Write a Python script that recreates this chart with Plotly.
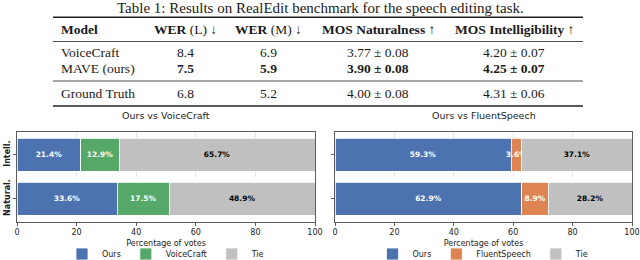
import plotly.graph_objects as go

W, H = 640, 260

# ---------------- Table data ----------------
table_title = "Table 1: Results on RealEdit benchmark for the speech editing task."
headers = ["<b>Model</b>", "<b>WER</b> (L) ↓", "<b>WER</b> (M) ↓", "<b>MOS Naturalness</b> ↑", "<b>MOS Intelligibility</b> ↑"]
models = ["VoiceCraft", "MAVE (ours)", "Ground Truth"]
wer_l = ["8.4", "7.5", "6.8"]
wer_m = ["6.9", "5.9", "5.2"]
mos_nat = ["3.77 ± 0.08", "3.90 ± 0.08", "4.00 ± 0.08"]
mos_int = ["4.20 ± 0.07", "4.25 ± 0.07", "4.31 ± 0.06"]
bold_row = 1

# ---------------- Chart data ----------------
categories = ["Natural.", "Intell."]
left_title = "Ours vs VoiceCraft"
right_title = "Ours vs FluentSpeech"
left_ours = [33.6, 21.4]
left_voicecraft = [17.5, 12.9]
left_tie = [48.9, 65.7]
right_ours = [62.9, 59.3]
right_fluent = [8.9, 3.6]
right_tie = [28.2, 37.1]
x_ticks = [0, 20, 40, 60, 80, 100]

BLUE = "#4C72B0"
GREEN = "#55A868"
ORANGE = "#DD8452"
GRAY = "#C0C0C0"

SERIF = "Liberation Serif, Times New Roman, serif"
SANS = "DejaVu Sans, sans-serif"


def px(x):
    return x / W


def py(y):
    return 1 - y / H


fig = go.Figure()


def add_bars(vals, name, color, txtcolor, xa, ya, legend):
    fig.add_trace(go.Bar(
        y=categories, x=vals, orientation="h", name=name,
        marker=dict(color=color, line=dict(color="white", width=0.8)),
        width=0.75,
        text=[f"{v:.1f}%" for v in vals],
        textposition="inside", insidetextanchor="middle", textangle=0,
        constraintext="none",
        textfont=dict(family=SANS, size=7.5, color=txtcolor, weight="bold"),
        xaxis=xa, yaxis=ya, legend=legend,
        hoverinfo="skip",
    ))


add_bars(left_ours, "Ours", BLUE, "white", "x", "y", "legend")
add_bars(left_voicecraft, "VoiceCraft", GREEN, "white", "x", "y", "legend")
add_bars(left_tie, "Tie", GRAY, "black", "x", "y", "legend")
add_bars(right_ours, "Ours", BLUE, "white", "x2", "y2", "legend2")
add_bars(right_fluent, "FluentSpeech", ORANGE, "white", "x2", "y2", "legend2")
add_bars(right_tie, "Tie", GRAY, "black", "x2", "y2", "legend2")

ydom = [py(222), py(132)]
xdom1 = [px(17), px(315)]
xdom2 = [px(335), px(632)]

axis_common = dict(
    showline=True, mirror=True, linecolor="#333333", linewidth=0.8,
    ticks="outside", ticklen=3, tickwidth=0.8, tickcolor="#333333",
    zeroline=False, automargin=False,
)
xcommon = dict(
    range=[0, 100], tickvals=x_ticks, showgrid=True, griddash="dash",
    gridcolor="#dedede", gridwidth=0.8,
    tickfont=dict(family=SANS, size=8, color="#222"),
    title=dict(text="Percentage of votes", font=dict(family=SANS, size=8, color="#222"), standoff=3),
    **axis_common,
)
ycommon = dict(
    type="category", categoryorder="array", categoryarray=categories,
    range=[-0.53, 1.52], showgrid=False, **axis_common,
)

fig.update_layout(
    width=W, height=H, margin=dict(l=0, r=0, t=0, b=0, autoexpand=False),
    paper_bgcolor="white", plot_bgcolor="white",
    barmode="stack", showlegend=True,
    xaxis=dict(domain=xdom1, anchor="y", **xcommon),
    xaxis2=dict(domain=xdom2, anchor="y2", **xcommon),
    yaxis=dict(domain=ydom, anchor="x", tickangle=-90,
               tickvals=categories, ticktext=["<b>" + c + "</b>" for c in categories],
               tickfont=dict(family=SANS, size=8, color="#222"), **ycommon),
    yaxis2=dict(domain=ydom, anchor="x2", showticklabels=False, **ycommon),
    legend=dict(orientation="h", x=(xdom1[0] + xdom1[1]) / 2, xanchor="center",
                y=py(254), yanchor="middle", font=dict(family=SANS, size=8, color="#222"),
                bgcolor="rgba(0,0,0,0)", traceorder="normal"),
    legend2=dict(orientation="h", x=(xdom2[0] + xdom2[1]) / 2, xanchor="center",
                 y=py(254), yanchor="middle", font=dict(family=SANS, size=8, color="#222"),
                 bgcolor="rgba(0,0,0,0)", traceorder="normal"),
)

# chart titles
fig.add_annotation(text=left_title, x=(xdom1[0] + xdom1[1]) / 2, y=py(116), xref="paper", yref="paper",
                   showarrow=False, xanchor="center", yanchor="middle",
                   font=dict(family=SANS, size=9.5, color="#222"))
fig.add_annotation(text=right_title, x=(xdom2[0] + xdom2[1]) / 2, y=py(116), xref="paper", yref="paper",
                   showarrow=False, xanchor="center", yanchor="middle",
                   font=dict(family=SANS, size=9.5, color="#222"))

# ---------------- Table ----------------
TFS = 13.5
TCOL = "#1a1a1a"
fig.add_annotation(text=table_title, x=px(320), y=py(8), xref="paper", yref="paper",
                   showarrow=False, xanchor="center", yanchor="middle",
                   font=dict(family=SERIF, size=15, color=TCOL))

col_x = [59, 185.5, 268, 378, 514]
row_y = [53, 69, 93]
header_y = 29.5

for i, h in enumerate(headers):
    fig.add_annotation(text=h, x=px(col_x[i]), y=py(header_y), xref="paper", yref="paper",
                       showarrow=False, xanchor="left" if i == 0 else "center", yanchor="middle",
                       font=dict(family=SERIF, size=TFS, color=TCOL))

for r in range(len(models)):
    cells = [models[r], wer_l[r], wer_m[r], mos_nat[r], mos_int[r]]
    for i, c in enumerate(cells):
        t = c
        if r == bold_row and i > 0:
            t = "<b>" + c + "</b>"
        fig.add_annotation(text=t, x=px(col_x[i]), y=py(row_y[r]), xref="paper", yref="paper",
                           showarrow=False, xanchor="left" if i == 0 else "center", yanchor="middle",
                           font=dict(family=SERIF, size=TFS, color=TCOL))

for yy, lw in [(17.3, 1.6), (41.5, 0.8), (81, 0.8), (106, 1.6)]:
    fig.add_shape(type="line", xref="paper", yref="paper", x0=px(53), x1=px(583),
                  y0=py(yy), y1=py(yy), line=dict(color="#222", width=lw))

fig.write_html("out.html",
               config=dict(displayModeBar=False, staticPlot=True),
               post_script="document.body.style.margin='0';document.body.style.padding='0';"
                           "document.documentElement.style.overflow='hidden';")
